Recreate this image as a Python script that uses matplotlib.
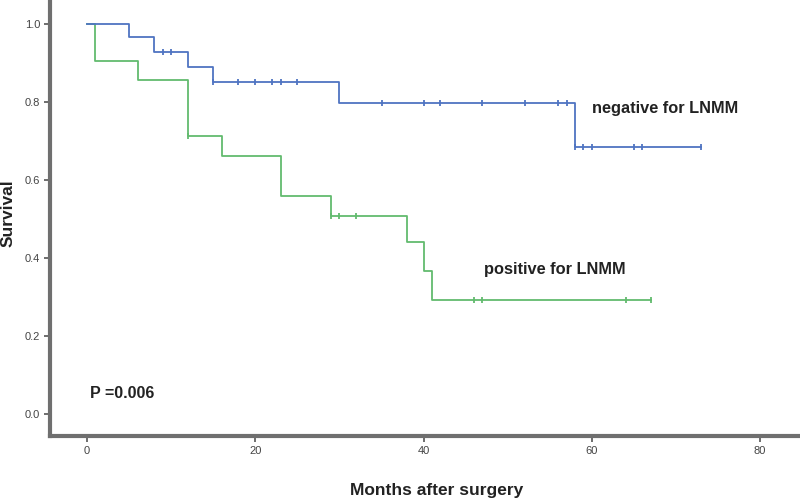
import numpy as np
import matplotlib.pyplot as plt

plt.rcParams['font.family'] = ['Liberation Sans', 'DejaVu Sans']

# Kaplan-Meier estimates
neg_times = [0, 5, 8, 12, 15, 30, 58, 73]
neg_surv = [1.0, 0.966, 0.929, 0.889, 0.851, 0.797, 0.684, 0.684]
neg_censor = [9, 10, 15, 18, 20, 22, 23, 25, 35, 40, 42, 47, 52, 56, 57, 58, 59, 60, 65, 66, 73]

pos_times = [0, 1, 6, 12, 16, 23, 29, 38, 40, 41, 67]
pos_surv = [1.0, 0.906, 0.857, 0.713, 0.663, 0.560, 0.509, 0.441, 0.366, 0.293, 0.293]
pos_censor = [12, 29, 30, 32, 46, 47, 64, 67]

blue = '#4f74c2'
green = '#62bb6e'


def surv_at(times, surv, t):
    i = np.searchsorted(times, t, side='right') - 1
    return np.array(surv)[i]


fig = plt.figure(figsize=(8, 5.01), dpi=100)
ax = fig.add_axes([0.0625, 0.13, 0.935, 0.87])

ax.step(pos_times, pos_surv, where='post', color=green, lw=1.3)
ax.step(neg_times, neg_surv, where='post', color=blue, lw=1.3)
ax.plot(neg_censor, surv_at(neg_times, neg_surv, neg_censor), ls='none',
        marker='|', ms=5, mew=1.3, color=blue)
ax.plot(pos_censor, surv_at(pos_times, pos_surv, pos_censor), ls='none',
        marker='|', ms=5, mew=1.3, color=green)

ax.text(60, 0.783, 'negative for LNMM', fontsize=11.8, fontweight='bold', va='center', color='#222222')
ax.text(47.2, 0.371, 'positive for LNMM', fontsize=11.8, fontweight='bold', va='center', color='#222222')
ax.text(0.4, 0.0515, 'P =0.006', fontsize=11.5, fontweight='bold', va='center', color='#222222')

ax.set_xlim(-4.4, 84.5)
ax.set_ylim(-0.056, 1.062)
ax.set_xticks([0, 20, 40, 60, 80])
ax.set_yticks([0.0, 0.2, 0.4, 0.6, 0.8, 1.0])
ax.set_yticklabels(['0.0', '0.2', '0.4', '0.6', '0.8', '1.0'])

for s in ['top', 'right']:
    ax.spines[s].set_visible(False)
for s in ['left', 'bottom']:
    ax.spines[s].set_linewidth(3)
    ax.spines[s].set_color('#6f6f6f')
ax.tick_params(length=4, width=1.2, color='#555555', labelsize=8, labelcolor='#444444', pad=3)

fig.text(437 / 800, 1 - 491 / 501, 'Months after surgery', fontsize=12.5, fontweight='bold',
         ha='center', va='center', color='#222222')
fig.text(8 / 800, 1 - 213 / 501, 'Survival', fontsize=12.5, fontweight='bold', rotation=90,
         ha='center', va='center', color='#222222')

fig.savefig('out.png', dpi=100)
